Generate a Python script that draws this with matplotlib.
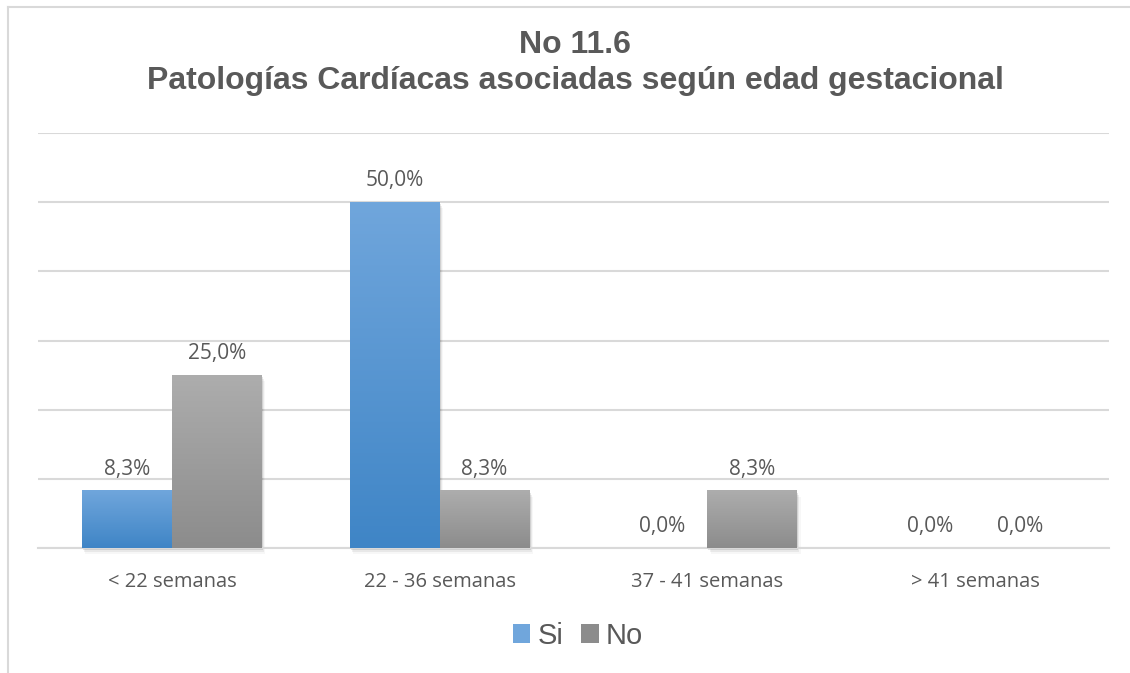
import numpy as np
import matplotlib.pyplot as plt
from matplotlib.lines import Line2D
from matplotlib.patches import Rectangle

# data
categorias = ["< 22 semanas", "22 - 36 semanas", "37 - 41 semanas", "> 41 semanas"]
si = [8.3, 50.0, 0.0, 0.0]
no = [25.0, 8.3, 8.3, 0.0]
series = ["Si", "No"]

# gradients (top colour, bottom colour)
grad_si = ("#70a6dc", "#3f85c6")
grad_no = ("#adadad", "#8c8c8c")
texto = "#595959"

fig = plt.figure(figsize=(11.3, 6.73), dpi=100)
ax = fig.add_axes([38 / 1130, 1 - 548 / 673, (1109 - 38) / 1130, (548 - 133) / 673])

ancho = 0.336
x = np.arange(len(categorias))


def barra_gradiente(ax, x0, h, colores):
    if h <= 0:
        return
    c1 = np.array(plt.matplotlib.colors.to_rgb(colores[0]))
    c2 = np.array(plt.matplotlib.colors.to_rgb(colores[1]))
    t = np.linspace(0, 1, 256)[:, None]
    img = (c1 * (1 - t) + c2 * t)[:, None, :]
    # soft shadow
    for k, a in enumerate([0.10, 0.06, 0.03]):
        d = 0.004 * (k + 1)
        ax.add_patch(Rectangle((x0 + d, -0.3 * (k + 1)), ancho, h,
                               facecolor="black", alpha=a, lw=0, zorder=2, clip_on=False))
    ax.imshow(img, extent=(x0, x0 + ancho, 0, h), aspect="auto", zorder=3,
              interpolation="bilinear")


for i in range(len(categorias)):
    barra_gradiente(ax, x[i] - ancho, si[i], grad_si)
    barra_gradiente(ax, x[i], no[i], grad_no)
    for xc, v in [(x[i] - ancho / 2, si[i]), (x[i] + ancho / 2, no[i])]:
        ax.text(xc, v + 1.6, f"{v:.1f}".replace(".", ",") + "%", ha="center", va="bottom",
                fontsize=15, color=texto, family="Open Sans", zorder=5)

ax.set_xlim(-0.5, len(categorias) - 0.5)
ax.set_ylim(0, 60)
ax.set_yticks(np.arange(0, 61, 10))
ax.yaxis.grid(True, color="#d9d9d9", lw=1.5, zorder=0)
ax.set_axisbelow(True)
ax.tick_params(axis="y", left=False, labelleft=False)
ax.tick_params(axis="x", bottom=False, pad=14)
ax.set_xticks(x)
ax.set_xticklabels(categorias, fontsize=14.5, color=texto, family="Open Sans")
for s in ["top", "right", "left"]:
    ax.spines[s].set_visible(False)
ax.spines["bottom"].set_color("#d9d9d9")
ax.spines["bottom"].set_linewidth(1.5)

# title
fig.text(575 / 1130, 1 - 45 / 673, "No 11.6", ha="center", va="center", fontsize=23,
         fontweight="bold", color=texto, family="Liberation Sans")
fig.text(575 / 1130, 1 - 81 / 673, "Patologías Cardíacas asociadas según edad gestacional",
         ha="center", va="center", fontsize=23, fontweight="bold", color=texto,
         family="Liberation Sans")

# legend
handles = [Rectangle((0, 0), 1, 1, facecolor=grad_si[0], edgecolor="none"),
           Rectangle((0, 0), 1, 1, facecolor=grad_no[1], edgecolor="none")]
fig.legend(handles, series, loc="center", bbox_to_anchor=(578 / 1130, 1 - 636 / 673),
           ncol=2, frameon=False, prop={"family": "Liberation Sans", "size": 21},
           labelcolor=texto, handlelength=0.6, handleheight=0.6, handletextpad=0.25,
           columnspacing=0.6)

# chart frame
fig.add_artist(Line2D([8 / 1130, 1], [1 - 7 / 673, 1 - 7 / 673], color="#d9d9d9", lw=1.5))
fig.add_artist(Line2D([8 / 1130, 8 / 1130], [0, 1 - 7 / 673], color="#d9d9d9", lw=1.5))

fig.savefig("out.png", dpi=100, facecolor="white")
